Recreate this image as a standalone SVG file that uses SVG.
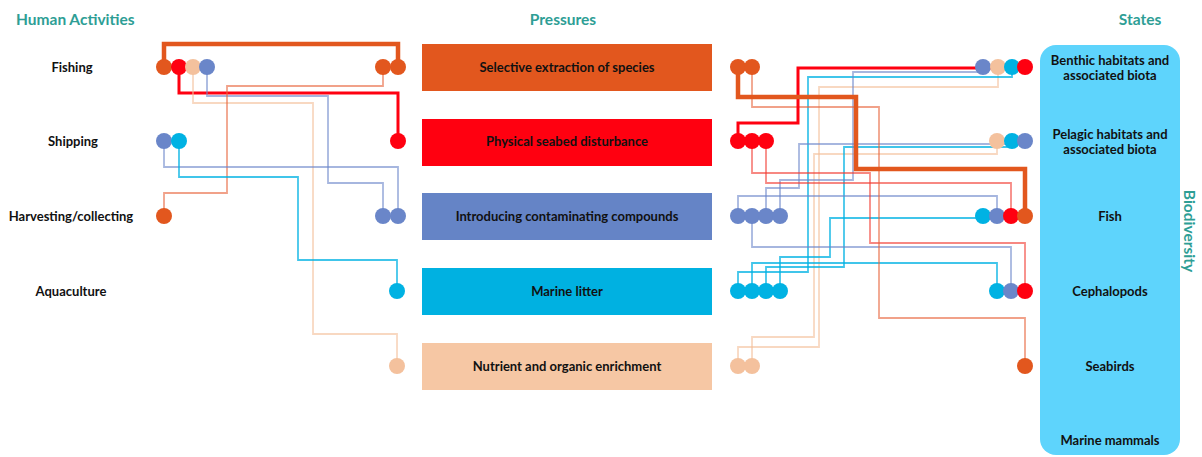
<svg xmlns="http://www.w3.org/2000/svg" width="1202" height="457" viewBox="0 0 1202 457">
  <style>
    .head { font-family: Lato, "Liberation Sans", sans-serif; font-weight: bold; font-size: 15.5px; fill: #2E9E95; }
    .lbl { font-family: Lato, "Liberation Sans", sans-serif; font-weight: bold; font-size: 13px; fill: #111; text-anchor: middle; dominant-baseline: central; }
    .ln { fill: none; stroke-linejoin: miter; }
    .thin { stroke-width: 1.8; }
    .o { stroke: #E2571E; }
    .o2 { stroke: #E8623A; opacity: 0.6; }
    .r { stroke: #FF0010; }
    .r2 { stroke: #F2382E; opacity: 0.6; }
    .p { stroke: #F4BE98; opacity: 0.6; }
    .b { stroke: #6A86C9; opacity: 0.6; }
    .c { stroke: #00B2E3; opacity: 0.75; }
    .dO { fill: #E2571E; }
    .dR { fill: #FF0010; }
    .dP { fill: #F4C19D; }
    .dB { fill: #6A86C9; }
    .dC { fill: #00B2E3; }
  </style>

  <!-- column headings -->
  <text class="head" x="16" y="25">Human Activities</text>
  <text class="head" x="563" y="25" text-anchor="middle">Pressures</text>
  <text class="head" x="1140" y="25" text-anchor="middle">States</text>

  <!-- state panel -->
  <g id="states-panel">
    <rect x="1040" y="45" width="140" height="410" rx="16" fill="#5ED4FC"/>
    <text class="head" transform="translate(1190,231) rotate(90)" text-anchor="middle" dominant-baseline="central" font-size="14">Biodiversity</text>
  </g>

  <!-- connectors -->
  <g id="connectors">
    <!-- activities to pressures -->
    <path class="ln o" stroke-width="4.5" d="M164,67 V44 H398 V67"/>
    <path class="ln r" stroke-width="3" d="M179,67 V93 H398 V141"/>
    <path class="ln thin p" d="M193,67 V103 H313 V334 H397 V366"/>
    <path class="ln thin b" d="M207,67 V96 H328 V183 H383 V216"/>
    <path class="ln thin o2" d="M164,216 V193 H227 V86 H383 V67"/>
    <path class="ln thin b" d="M164,141 V167 H398 V216"/>
    <path class="ln thin c" d="M179,141 V177 H298 V260 H397 V291"/>

    <!-- pressures to states -->
    <path class="ln thin p" d="M738,366 V347 H819 V87 H998 V67"/>
    <path class="ln thin p" d="M752,366 V337 H814 V154 H997 V141"/>
    <path class="ln thin c" d="M738,291 V272 H808 V77 H1012 V67"/>
    <path class="ln thin c" d="M752,291 V263 H997 V291"/>
    <path class="ln thin c" d="M766,291 V267 H844 V147 H1012 V141"/>
    <path class="ln thin c" d="M780,291 V257 H830 V218 H983"/>
    <path class="ln thin b" d="M738,216 V196 H997 V216"/>
    <path class="ln thin b" d="M752,216 V247 H1011 V291"/>
    <path class="ln thin b" d="M766,216 V188 H799 V144 H1025 V141"/>
    <path class="ln thin b" d="M780,216 V180 H853 V72 H983 V67"/>
    <path class="ln thin r2" d="M752,141 V173 H870 V243 H1025 V291"/>
    <path class="ln thin r2" d="M766,141 V183 H1011 V216"/>
    <path class="ln thin o2" d="M752,67 V107 H879 V318 H1025 V366"/>
    <path class="ln r" stroke-width="3" d="M738,141 V123 H798 V68 H1025"/>
    <path class="ln o" stroke-width="4.5" d="M738,67 V97 H856 V169 H1025 V216"/>
  </g>

  <!-- human activities -->
  <g id="fishing">
    <text class="lbl" x="72" y="67">Fishing</text>
    <circle class="dO" cx="164" cy="67" r="8"/>
    <circle class="dR" cx="179" cy="67" r="8"/>
    <circle class="dP" cx="193" cy="67" r="8"/>
    <circle class="dB" cx="207" cy="67" r="8"/>
  </g>
  <g id="shipping">
    <text class="lbl" x="73" y="141">Shipping</text>
    <circle class="dB" cx="164" cy="141" r="8"/>
    <circle class="dC" cx="179" cy="141" r="8"/>
  </g>
  <g id="harvesting">
    <text class="lbl" x="71" y="216">Harvesting/collecting</text>
    <circle class="dO" cx="164" cy="216" r="8"/>
  </g>
  <g id="aquaculture">
    <text class="lbl" x="71" y="291">Aquaculture</text>
  </g>

  <!-- pressures -->
  <g id="selective-extraction">
    <rect x="422" y="44" width="290" height="47" fill="#E2571E"/>
    <text class="lbl" x="567" y="67">Selective extraction of species</text>
    <circle class="dO" cx="383" cy="67" r="8"/>
    <circle class="dO" cx="398" cy="67" r="8"/>
    <circle class="dO" cx="738" cy="67" r="8"/>
    <circle class="dO" cx="752" cy="67" r="8"/>
  </g>
  <g id="seabed-disturbance">
    <rect x="422" y="119" width="290" height="47" fill="#FF0010"/>
    <text class="lbl" x="567" y="141">Physical seabed disturbance</text>
    <circle class="dR" cx="398" cy="141" r="8"/>
    <circle class="dR" cx="738" cy="141" r="8"/>
    <circle class="dR" cx="752" cy="141" r="8"/>
    <circle class="dR" cx="766" cy="141" r="8"/>
  </g>
  <g id="contaminants">
    <rect x="422" y="193" width="290" height="47" fill="#6584C6"/>
    <text class="lbl" x="567" y="216">Introducing contaminating compounds</text>
    <circle class="dB" cx="383" cy="216" r="8"/>
    <circle class="dB" cx="398" cy="216" r="8"/>
    <circle class="dB" cx="738" cy="216" r="8"/>
    <circle class="dB" cx="752" cy="216" r="8"/>
    <circle class="dB" cx="766" cy="216" r="8"/>
    <circle class="dB" cx="780" cy="216" r="8"/>
  </g>
  <g id="marine-litter">
    <rect x="422" y="268" width="290" height="47" fill="#00B1E1"/>
    <text class="lbl" x="567" y="291">Marine litter</text>
    <circle class="dC" cx="397" cy="291" r="8"/>
    <circle class="dC" cx="738" cy="291" r="8"/>
    <circle class="dC" cx="752" cy="291" r="8"/>
    <circle class="dC" cx="766" cy="291" r="8"/>
    <circle class="dC" cx="780" cy="291" r="8"/>
  </g>
  <g id="nutrient-enrichment">
    <rect x="422" y="343" width="290" height="47" fill="#F6C7A4"/>
    <text class="lbl" x="567" y="366">Nutrient and organic enrichment</text>
    <circle class="dP" cx="397" cy="366" r="8"/>
    <circle class="dP" cx="738" cy="366" r="8"/>
    <circle class="dP" cx="752" cy="366" r="8"/>
  </g>

  <!-- states -->
  <g id="benthic">
    <text class="lbl" x="1110" y="60">Benthic habitats and</text>
    <text class="lbl" x="1110" y="75">associated biota</text>
    <circle class="dB" cx="983" cy="67" r="8"/>
    <circle class="dP" cx="998" cy="67" r="8"/>
    <circle class="dC" cx="1012" cy="67" r="8"/>
    <circle class="dR" cx="1025" cy="67" r="8"/>
  </g>
  <g id="pelagic">
    <text class="lbl" x="1110" y="134">Pelagic habitats and</text>
    <text class="lbl" x="1110" y="149">associated biota</text>
    <circle class="dP" cx="997" cy="141" r="8"/>
    <circle class="dC" cx="1012" cy="141" r="8"/>
    <circle class="dB" cx="1025" cy="141" r="8"/>
  </g>
  <g id="fish">
    <text class="lbl" x="1110" y="216">Fish</text>
    <circle class="dC" cx="983" cy="216" r="8"/>
    <circle class="dB" cx="997" cy="216" r="8"/>
    <circle class="dR" cx="1011" cy="216" r="8"/>
    <circle class="dO" cx="1025" cy="216" r="8"/>
  </g>
  <g id="cephalopods">
    <text class="lbl" x="1110" y="291">Cephalopods</text>
    <circle class="dC" cx="997" cy="291" r="8"/>
    <circle class="dB" cx="1011" cy="291" r="8"/>
    <circle class="dR" cx="1025" cy="291" r="8"/>
  </g>
  <g id="seabirds">
    <text class="lbl" x="1110" y="366">Seabirds</text>
    <circle class="dO" cx="1025" cy="366" r="8"/>
  </g>
  <g id="marine-mammals">
    <text class="lbl" x="1110" y="440">Marine mammals</text>
  </g>
</svg>
